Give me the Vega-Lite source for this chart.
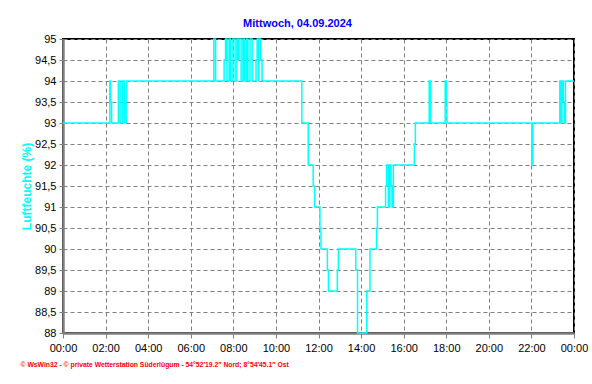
{
  "$schema": "https://vega.github.io/schema/vega-lite/v6.json",
  "width": 511,
  "height": 294,
  "autosize": "none",
  "padding": {"left": 63, "top": 39, "right": 18, "bottom": 51},
  "background": "white",
  "title": {
    "text": "Mittwoch, 04.09.2024",
    "font": "Liberation Sans",
    "fontSize": 11,
    "fontWeight": "bold",
    "color": "#0000ff",
    "anchor": "middle",
    "dx": -21,
    "offset": 4
  },
  "data": {
    "values": [
      {"minute": 0, "v": 93},
      {"minute": 132, "v": 94},
      {"minute": 134, "v": 93.5},
      {"minute": 137, "v": 93},
      {"minute": 156, "v": 94},
      {"minute": 161, "v": 93},
      {"minute": 167, "v": 94},
      {"minute": 173, "v": 93},
      {"minute": 178, "v": 93.5},
      {"minute": 180, "v": 94},
      {"minute": 425, "v": 95},
      {"minute": 430, "v": 94},
      {"minute": 454, "v": 94.5},
      {"minute": 458, "v": 95},
      {"minute": 462, "v": 94},
      {"minute": 468, "v": 95},
      {"minute": 472, "v": 94},
      {"minute": 479, "v": 95},
      {"minute": 485, "v": 94},
      {"minute": 490, "v": 95},
      {"minute": 493, "v": 94.5},
      {"minute": 496, "v": 95},
      {"minute": 502, "v": 94},
      {"minute": 507, "v": 95},
      {"minute": 511, "v": 94},
      {"minute": 517, "v": 95},
      {"minute": 521, "v": 94},
      {"minute": 527, "v": 95},
      {"minute": 533, "v": 94},
      {"minute": 544, "v": 94.5},
      {"minute": 547, "v": 95},
      {"minute": 550, "v": 94},
      {"minute": 552, "v": 95},
      {"minute": 557, "v": 94.5},
      {"minute": 561, "v": 94},
      {"minute": 673, "v": 93},
      {"minute": 691, "v": 92},
      {"minute": 705, "v": 91.5},
      {"minute": 709, "v": 91},
      {"minute": 724, "v": 90.5},
      {"minute": 727, "v": 90},
      {"minute": 745, "v": 89.5},
      {"minute": 748, "v": 89},
      {"minute": 773, "v": 89.5},
      {"minute": 776, "v": 90},
      {"minute": 825, "v": 89.5},
      {"minute": 830, "v": 88},
      {"minute": 856, "v": 89},
      {"minute": 865, "v": 90},
      {"minute": 884, "v": 90.5},
      {"minute": 886, "v": 91},
      {"minute": 909, "v": 91.5},
      {"minute": 912, "v": 92},
      {"minute": 917, "v": 91},
      {"minute": 921, "v": 92},
      {"minute": 924, "v": 91.5},
      {"minute": 927, "v": 91},
      {"minute": 931, "v": 92},
      {"minute": 990, "v": 92.5},
      {"minute": 993, "v": 93},
      {"minute": 1032, "v": 94},
      {"minute": 1036, "v": 93},
      {"minute": 1077, "v": 94},
      {"minute": 1080, "v": 93.5},
      {"minute": 1082, "v": 93},
      {"minute": 1321, "v": 92},
      {"minute": 1324, "v": 93},
      {"minute": 1400, "v": 94},
      {"minute": 1403, "v": 93},
      {"minute": 1406, "v": 94},
      {"minute": 1410, "v": 93.5},
      {"minute": 1413, "v": 93},
      {"minute": 1416, "v": 94},
      {"minute": 1440, "v": 94}
    ]
  },
  "mark": {"type": "line", "interpolate": "step-after", "color": "#00ffff", "strokeWidth": 1.5},
  "encoding": {
    "x": {
      "field": "minute",
      "type": "quantitative",
      "scale": {"domain": [0, 1440], "nice": false, "zero": false},
      "axis": {
        "values": [0, 120, 240, 360, 480, 600, 720, 840, 960, 1080, 1200, 1320, 1440],
        "labelExpr": "((datum.value % 1440) < 600 ? '0' : '') + ((datum.value % 1440) / 60) + ':00'",
        "title": "© WsWin32  -  © private Wetterstation Süderlügum  -  54°52′19.2″ Nord; 8°54′45.1″ Ost",
        "titleColor": "#ff0000",
        "titleFont": "Liberation Sans",
        "titleFontSize": 6.8,
        "titleFontWeight": "bold",
        "titleAnchor": "start",
        "titleAlign": "left",
        "titleBaseline": "alphabetic",
        "titleX": -43,
        "titleY": 33,
        "labelFlush": false,
        "labelOverlap": false,
        "tickSize": 5,
        "labelPadding": 4
      }
    },
    "y": {
      "field": "v",
      "type": "quantitative",
      "scale": {"domain": [88, 95], "nice": false, "zero": false},
      "axis": {
        "values": [88, 88.5, 89, 89.5, 90, 90.5, 91, 91.5, 92, 92.5, 93, 93.5, 94, 94.5, 95],
        "labelExpr": "replace(format(datum.value, '.1~f'), '.', ',')",
        "title": "Luftfeuchte (%)",
        "titleColor": "#00ffff",
        "titleFont": "Liberation Sans",
        "titleFontSize": 12,
        "titleFontWeight": "bold",
        "titlePadding": 1,
        "tickSize": 4,
        "labelPadding": 3,
        "labelFlush": false,
        "labelOverlap": false
      }
    }
  },
  "config": {
    "view": {"stroke": "#000000", "strokeWidth": 2},
    "axis": {
      "labelFont": "Liberation Sans",
      "labelFontSize": 11,
      "labelColor": "#000000",
      "domainColor": "#808080",
      "domainWidth": 2.5,
      "tickColor": "#808080",
      "tickWidth": 1,
      "grid": true,
      "gridColor": "#808080",
      "gridDash": [4, 3],
      "gridWidth": 1,
      "gridOpacity": 1
    }
  }
}
